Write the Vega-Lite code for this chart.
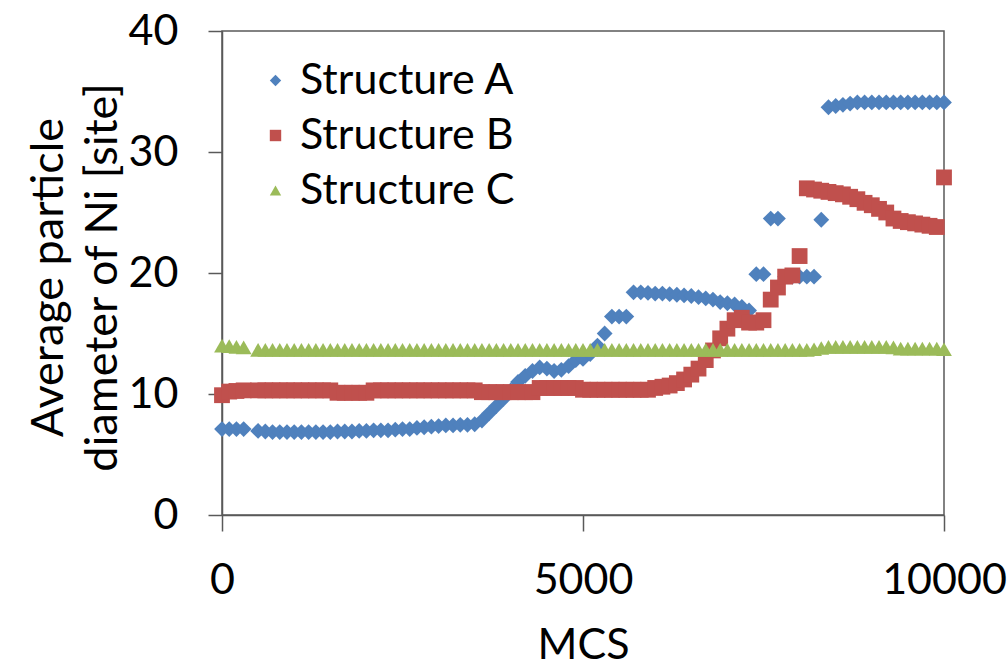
{
"$schema": "https://vega.github.io/schema/vega-lite/v6.json",
"width": 722, "height": 484,
"autosize": "none",
"padding": {"left": 222, "top": 31, "right": 64, "bottom": 153},
"background": "white",
"config": {"view": {"stroke": "#595959", "strokeWidth": 1.5}, "font": "Lato"},
"data": {"values": [
{"x":0,"s":"Structure A","y":7.1},{"x":100,"s":"Structure A","y":7.1},{"x":200,"s":"Structure A","y":7.1},{"x":300,"s":"Structure A","y":7.1},
{"x":500,"s":"Structure A","y":6.95},{"x":600,"s":"Structure A","y":6.9},{"x":700,"s":"Structure A","y":6.85},{"x":800,"s":"Structure A","y":6.85},{"x":900,"s":"Structure A","y":6.85},{"x":1000,"s":"Structure A","y":6.85},
{"x":1100,"s":"Structure A","y":6.85},{"x":1200,"s":"Structure A","y":6.85},{"x":1300,"s":"Structure A","y":6.85},{"x":1400,"s":"Structure A","y":6.85},{"x":1500,"s":"Structure A","y":6.85},
{"x":1600,"s":"Structure A","y":6.9},{"x":1700,"s":"Structure A","y":6.9},{"x":1800,"s":"Structure A","y":6.9},{"x":1900,"s":"Structure A","y":6.95},{"x":2000,"s":"Structure A","y":6.95},
{"x":2100,"s":"Structure A","y":7.0},{"x":2200,"s":"Structure A","y":7.0},{"x":2300,"s":"Structure A","y":7.0},{"x":2400,"s":"Structure A","y":7.05},{"x":2500,"s":"Structure A","y":7.1},
{"x":2600,"s":"Structure A","y":7.1},{"x":2700,"s":"Structure A","y":7.2},{"x":2800,"s":"Structure A","y":7.25},{"x":2900,"s":"Structure A","y":7.3},{"x":3000,"s":"Structure A","y":7.35},
{"x":3100,"s":"Structure A","y":7.4},{"x":3200,"s":"Structure A","y":7.4},{"x":3300,"s":"Structure A","y":7.45},{"x":3400,"s":"Structure A","y":7.45},{"x":3500,"s":"Structure A","y":7.5},
{"x":3600,"s":"Structure A","y":7.8},{"x":3700,"s":"Structure A","y":8.4},{"x":3800,"s":"Structure A","y":9.0},{"x":3900,"s":"Structure A","y":9.6},{"x":4000,"s":"Structure A","y":10.3},
{"x":4100,"s":"Structure A","y":11.0},{"x":4200,"s":"Structure A","y":11.5},{"x":4300,"s":"Structure A","y":11.9},{"x":4400,"s":"Structure A","y":12.2},{"x":4500,"s":"Structure A","y":12.1},
{"x":4600,"s":"Structure A","y":11.9},{"x":4700,"s":"Structure A","y":12.0},{"x":4800,"s":"Structure A","y":12.3},{"x":4900,"s":"Structure A","y":12.8},{"x":5000,"s":"Structure A","y":12.9},
{"x":5100,"s":"Structure A","y":13.3},{"x":5200,"s":"Structure A","y":14.0},{"x":5300,"s":"Structure A","y":15.0},{"x":5400,"s":"Structure A","y":16.4},{"x":5500,"s":"Structure A","y":16.4},
{"x":5600,"s":"Structure A","y":16.4},{"x":5700,"s":"Structure A","y":18.4},{"x":5800,"s":"Structure A","y":18.4},{"x":5900,"s":"Structure A","y":18.35},{"x":6000,"s":"Structure A","y":18.3},
{"x":6100,"s":"Structure A","y":18.3},{"x":6200,"s":"Structure A","y":18.25},{"x":6300,"s":"Structure A","y":18.2},{"x":6400,"s":"Structure A","y":18.15},{"x":6500,"s":"Structure A","y":18.1},
{"x":6600,"s":"Structure A","y":18.0},{"x":6700,"s":"Structure A","y":17.9},{"x":6800,"s":"Structure A","y":17.8},{"x":6900,"s":"Structure A","y":17.6},{"x":7000,"s":"Structure A","y":17.5},
{"x":7100,"s":"Structure A","y":17.4},{"x":7200,"s":"Structure A","y":17.2},{"x":7300,"s":"Structure A","y":16.9},{"x":7400,"s":"Structure A","y":19.9},{"x":7500,"s":"Structure A","y":19.9},
{"x":7600,"s":"Structure A","y":24.5},{"x":7700,"s":"Structure A","y":24.5},{"x":7800,"s":"Structure A","y":19.7},{"x":7900,"s":"Structure A","y":19.7},{"x":8000,"s":"Structure A","y":19.7},
{"x":8100,"s":"Structure A","y":19.7},{"x":8200,"s":"Structure A","y":19.7},{"x":8300,"s":"Structure A","y":24.4},{"x":8400,"s":"Structure A","y":33.7},{"x":8500,"s":"Structure A","y":33.8},
{"x":8600,"s":"Structure A","y":33.9},{"x":8700,"s":"Structure A","y":34.0},{"x":8800,"s":"Structure A","y":34.1},{"x":8900,"s":"Structure A","y":34.1},{"x":9000,"s":"Structure A","y":34.1},
{"x":9100,"s":"Structure A","y":34.1},{"x":9200,"s":"Structure A","y":34.1},{"x":9300,"s":"Structure A","y":34.1},{"x":9400,"s":"Structure A","y":34.1},{"x":9500,"s":"Structure A","y":34.1},
{"x":9600,"s":"Structure A","y":34.1},{"x":9700,"s":"Structure A","y":34.1},{"x":9800,"s":"Structure A","y":34.1},{"x":9900,"s":"Structure A","y":34.1},{"x":10000,"s":"Structure A","y":34.1},

{"x":0,"s":"Structure B","y":9.9},{"x":100,"s":"Structure B","y":10.2},{"x":200,"s":"Structure B","y":10.25},{"x":300,"s":"Structure B","y":10.3},
{"x":500,"s":"Structure B","y":10.3},{"x":600,"s":"Structure B","y":10.3},{"x":700,"s":"Structure B","y":10.3},{"x":800,"s":"Structure B","y":10.3},{"x":900,"s":"Structure B","y":10.3},{"x":1000,"s":"Structure B","y":10.3},
{"x":1100,"s":"Structure B","y":10.3},{"x":1200,"s":"Structure B","y":10.3},{"x":1300,"s":"Structure B","y":10.3},{"x":1400,"s":"Structure B","y":10.3},{"x":1500,"s":"Structure B","y":10.3},
{"x":1600,"s":"Structure B","y":10.1},{"x":1700,"s":"Structure B","y":10.1},{"x":1800,"s":"Structure B","y":10.1},{"x":1900,"s":"Structure B","y":10.1},{"x":2000,"s":"Structure B","y":10.1},
{"x":2100,"s":"Structure B","y":10.3},{"x":2200,"s":"Structure B","y":10.3},{"x":2300,"s":"Structure B","y":10.3},{"x":2400,"s":"Structure B","y":10.3},{"x":2500,"s":"Structure B","y":10.3},
{"x":2600,"s":"Structure B","y":10.3},{"x":2700,"s":"Structure B","y":10.3},{"x":2800,"s":"Structure B","y":10.3},{"x":2900,"s":"Structure B","y":10.3},{"x":3000,"s":"Structure B","y":10.3},
{"x":3100,"s":"Structure B","y":10.3},{"x":3200,"s":"Structure B","y":10.3},{"x":3300,"s":"Structure B","y":10.3},{"x":3400,"s":"Structure B","y":10.3},{"x":3500,"s":"Structure B","y":10.3},
{"x":3600,"s":"Structure B","y":10.15},{"x":3700,"s":"Structure B","y":10.15},{"x":3800,"s":"Structure B","y":10.15},{"x":3900,"s":"Structure B","y":10.15},{"x":4000,"s":"Structure B","y":10.15},
{"x":4100,"s":"Structure B","y":10.15},{"x":4200,"s":"Structure B","y":10.15},{"x":4300,"s":"Structure B","y":10.15},{"x":4400,"s":"Structure B","y":10.5},{"x":4500,"s":"Structure B","y":10.5},
{"x":4600,"s":"Structure B","y":10.5},{"x":4700,"s":"Structure B","y":10.5},{"x":4800,"s":"Structure B","y":10.5},{"x":4900,"s":"Structure B","y":10.5},{"x":5000,"s":"Structure B","y":10.35},
{"x":5100,"s":"Structure B","y":10.35},{"x":5200,"s":"Structure B","y":10.35},{"x":5300,"s":"Structure B","y":10.35},{"x":5400,"s":"Structure B","y":10.35},{"x":5500,"s":"Structure B","y":10.35},
{"x":5600,"s":"Structure B","y":10.35},{"x":5700,"s":"Structure B","y":10.35},{"x":5800,"s":"Structure B","y":10.35},{"x":5900,"s":"Structure B","y":10.35},{"x":6000,"s":"Structure B","y":10.5},
{"x":6100,"s":"Structure B","y":10.6},{"x":6200,"s":"Structure B","y":10.7},{"x":6300,"s":"Structure B","y":10.9},{"x":6400,"s":"Structure B","y":11.2},{"x":6500,"s":"Structure B","y":11.6},
{"x":6600,"s":"Structure B","y":12.1},{"x":6700,"s":"Structure B","y":12.8},{"x":6800,"s":"Structure B","y":13.6},{"x":6900,"s":"Structure B","y":14.6},{"x":7000,"s":"Structure B","y":15.4},
{"x":7100,"s":"Structure B","y":16.1},{"x":7200,"s":"Structure B","y":16.3},{"x":7300,"s":"Structure B","y":15.9},{"x":7400,"s":"Structure B","y":15.9},{"x":7500,"s":"Structure B","y":16.1},
{"x":7600,"s":"Structure B","y":17.8},{"x":7700,"s":"Structure B","y":18.8},{"x":7800,"s":"Structure B","y":19.7},{"x":7900,"s":"Structure B","y":19.8},{"x":8000,"s":"Structure B","y":21.4},
{"x":8100,"s":"Structure B","y":27.0},{"x":8200,"s":"Structure B","y":26.9},{"x":8300,"s":"Structure B","y":26.8},{"x":8400,"s":"Structure B","y":26.7},{"x":8500,"s":"Structure B","y":26.6},
{"x":8600,"s":"Structure B","y":26.5},{"x":8700,"s":"Structure B","y":26.3},{"x":8800,"s":"Structure B","y":26.1},{"x":8900,"s":"Structure B","y":25.8},{"x":9000,"s":"Structure B","y":25.6},
{"x":9100,"s":"Structure B","y":25.3},{"x":9200,"s":"Structure B","y":25.0},{"x":9300,"s":"Structure B","y":24.5},{"x":9400,"s":"Structure B","y":24.3},{"x":9500,"s":"Structure B","y":24.2},
{"x":9600,"s":"Structure B","y":24.1},{"x":9700,"s":"Structure B","y":24.0},{"x":9800,"s":"Structure B","y":23.9},{"x":9900,"s":"Structure B","y":23.8},{"x":10000,"s":"Structure B","y":27.9},

{"x":0,"s":"Structure C","y":14.0},{"x":100,"s":"Structure C","y":13.95},{"x":200,"s":"Structure C","y":13.9},{"x":300,"s":"Structure C","y":13.85},
{"x":500,"s":"Structure C","y":13.65},{"x":600,"s":"Structure C","y":13.65},{"x":700,"s":"Structure C","y":13.65},{"x":800,"s":"Structure C","y":13.65},{"x":900,"s":"Structure C","y":13.65},{"x":1000,"s":"Structure C","y":13.65},
{"x":1100,"s":"Structure C","y":13.65},{"x":1200,"s":"Structure C","y":13.65},{"x":1300,"s":"Structure C","y":13.65},{"x":1400,"s":"Structure C","y":13.65},{"x":1500,"s":"Structure C","y":13.65},
{"x":1600,"s":"Structure C","y":13.65},{"x":1700,"s":"Structure C","y":13.65},{"x":1800,"s":"Structure C","y":13.65},{"x":1900,"s":"Structure C","y":13.65},{"x":2000,"s":"Structure C","y":13.65},
{"x":2100,"s":"Structure C","y":13.65},{"x":2200,"s":"Structure C","y":13.65},{"x":2300,"s":"Structure C","y":13.65},{"x":2400,"s":"Structure C","y":13.65},{"x":2500,"s":"Structure C","y":13.65},
{"x":2600,"s":"Structure C","y":13.65},{"x":2700,"s":"Structure C","y":13.65},{"x":2800,"s":"Structure C","y":13.65},{"x":2900,"s":"Structure C","y":13.65},{"x":3000,"s":"Structure C","y":13.65},
{"x":3100,"s":"Structure C","y":13.65},{"x":3200,"s":"Structure C","y":13.65},{"x":3300,"s":"Structure C","y":13.65},{"x":3400,"s":"Structure C","y":13.65},{"x":3500,"s":"Structure C","y":13.65},
{"x":3600,"s":"Structure C","y":13.65},{"x":3700,"s":"Structure C","y":13.65},{"x":3800,"s":"Structure C","y":13.65},{"x":3900,"s":"Structure C","y":13.65},{"x":4000,"s":"Structure C","y":13.65},
{"x":4100,"s":"Structure C","y":13.65},{"x":4200,"s":"Structure C","y":13.65},{"x":4300,"s":"Structure C","y":13.65},{"x":4400,"s":"Structure C","y":13.65},{"x":4500,"s":"Structure C","y":13.65},
{"x":4600,"s":"Structure C","y":13.65},{"x":4700,"s":"Structure C","y":13.65},{"x":4800,"s":"Structure C","y":13.65},{"x":4900,"s":"Structure C","y":13.65},{"x":5000,"s":"Structure C","y":13.65},
{"x":5100,"s":"Structure C","y":13.65},{"x":5200,"s":"Structure C","y":13.65},{"x":5300,"s":"Structure C","y":13.65},{"x":5400,"s":"Structure C","y":13.65},{"x":5500,"s":"Structure C","y":13.65},
{"x":5600,"s":"Structure C","y":13.65},{"x":5700,"s":"Structure C","y":13.65},{"x":5800,"s":"Structure C","y":13.65},{"x":5900,"s":"Structure C","y":13.65},{"x":6000,"s":"Structure C","y":13.65},
{"x":6100,"s":"Structure C","y":13.65},{"x":6200,"s":"Structure C","y":13.65},{"x":6300,"s":"Structure C","y":13.65},{"x":6400,"s":"Structure C","y":13.65},{"x":6500,"s":"Structure C","y":13.65},
{"x":6600,"s":"Structure C","y":13.65},{"x":6700,"s":"Structure C","y":13.65},{"x":6800,"s":"Structure C","y":13.65},{"x":6900,"s":"Structure C","y":13.65},{"x":7000,"s":"Structure C","y":13.65},
{"x":7100,"s":"Structure C","y":13.65},{"x":7200,"s":"Structure C","y":13.65},{"x":7300,"s":"Structure C","y":13.65},{"x":7400,"s":"Structure C","y":13.65},{"x":7500,"s":"Structure C","y":13.65},
{"x":7600,"s":"Structure C","y":13.65},{"x":7700,"s":"Structure C","y":13.65},{"x":7800,"s":"Structure C","y":13.65},{"x":7900,"s":"Structure C","y":13.65},{"x":8000,"s":"Structure C","y":13.65},
{"x":8100,"s":"Structure C","y":13.65},{"x":8200,"s":"Structure C","y":13.7},{"x":8300,"s":"Structure C","y":13.8},{"x":8400,"s":"Structure C","y":13.9},{"x":8500,"s":"Structure C","y":13.9},
{"x":8600,"s":"Structure C","y":13.9},{"x":8700,"s":"Structure C","y":13.9},{"x":8800,"s":"Structure C","y":13.9},{"x":8900,"s":"Structure C","y":13.9},{"x":9000,"s":"Structure C","y":13.9},
{"x":9100,"s":"Structure C","y":13.9},{"x":9200,"s":"Structure C","y":13.9},{"x":9300,"s":"Structure C","y":13.85},{"x":9400,"s":"Structure C","y":13.75},{"x":9500,"s":"Structure C","y":13.75},
{"x":9600,"s":"Structure C","y":13.75},{"x":9700,"s":"Structure C","y":13.75},{"x":9800,"s":"Structure C","y":13.75},{"x":9900,"s":"Structure C","y":13.75},{"x":10000,"s":"Structure C","y":13.7}
]},
"mark": {"type": "point", "filled": true, "size": 250, "opacity": 1},
"encoding": {
  "x": {"field": "x", "type": "quantitative",
    "scale": {"domain": [0, 10000], "nice": false, "zero": false},
    "axis": {"values": [0, 5000, 10000], "format": "d", "title": "MCS", "grid": false,
      "domainColor": "#595959", "domainWidth": 1.5, "tickColor": "#595959", "tickWidth": 1.5, "tickSize": 16,
      "labelFont": "Lato", "labelFontSize": 43, "labelColor": "black", "labelBaseline": "middle", "labelPadding": 49, "labelFlush": false, "labelOverlap": false,
      "titleFont": "Lato", "titleFontSize": 43, "titleFontWeight": "normal", "titleColor": "black", "titleBaseline": "middle", "titleY": 130, "titleX": 361}},
  "y": {"field": "y", "type": "quantitative",
    "scale": {"domain": [0, 40], "nice": false},
    "axis": {"values": [0, 10, 20, 30, 40], "title": ["Average particle", "diameter of Ni [site]"], "grid": false,
      "domainColor": "#595959", "domainWidth": 1.5, "tickColor": "#595959", "tickWidth": 1.5, "tickSize": 14,
      "labelFont": "Lato", "labelFontSize": 43, "labelColor": "black", "labelPadding": 30, "labelFlush": false, "labelOverlap": false,
      "titleFont": "Lato", "titleFontSize": 45, "titleFontWeight": "normal", "titleColor": "black",
      "titleAngle": -90, "titleAlign": "center", "titleBaseline": "middle", "titleLineHeight": 54, "titleX": -174, "titleY": 246}},
  "color": {"field": "s", "type": "nominal",
    "scale": {"domain": ["Structure A", "Structure B", "Structure C"], "range": ["#4F81BD", "#C0504D", "#9BBB59"]},
    "legend": {"orient": "none", "legendX": 32, "legendY": 28, "title": null, "padding": 0,
      "labelFont": "Lato", "labelFontSize": 43, "labelColor": "black", "labelOffset": 3, "labelLimit": 500, "symbolSize": 130, "rowPadding": 11, "symbolStrokeWidth": 0}},
  "shape": {"field": "s", "type": "nominal",
    "scale": {"domain": ["Structure A", "Structure B", "Structure C"], "range": ["diamond", "square", "triangle-up"]},
    "legend": {"orient": "none", "legendX": 32, "legendY": 28, "title": null, "padding": 0,
      "labelFont": "Lato", "labelFontSize": 43, "labelColor": "black", "labelOffset": 3, "labelLimit": 500, "symbolSize": 130, "rowPadding": 11, "symbolStrokeWidth": 0}}
}
}
